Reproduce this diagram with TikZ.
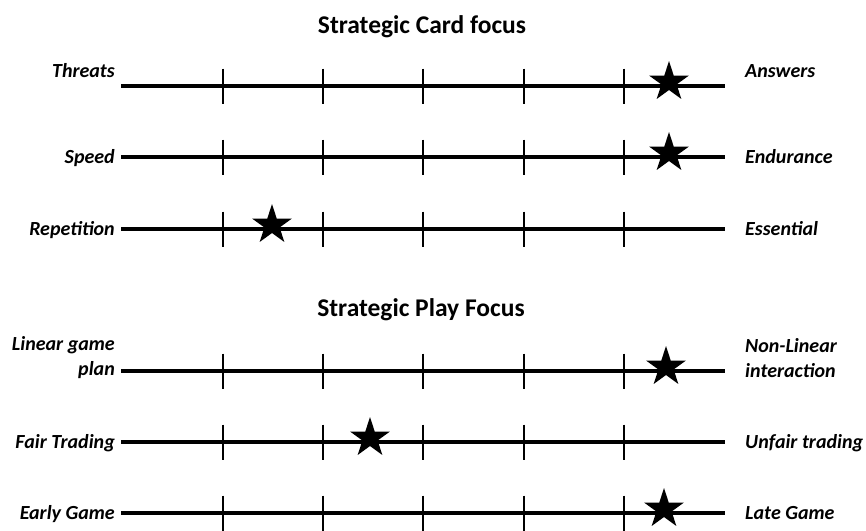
\documentclass[tikz,border=0pt]{standalone}
\usepackage{fontspec}
\setmainfont{Carlito}
\usetikzlibrary{shapes.geometric}
\tikzset{
  axisline/.style={line width=4pt},
  tickline/.style={line width=2pt},
  starmark/.style={star, star points=5, star point ratio=2.618, minimum size=42pt, inner sep=0pt, fill=black, draw=none},
  lbl/.style={font=\fontsize{20}{25}\selectfont\bfseries\itshape, inner sep=0pt},
  ttl/.style={font=\fontsize{25.5}{30}\selectfont\bfseries, inner sep=0pt, anchor=base}
}
\begin{document}
\begin{tikzpicture}[x=1pt,y=-1pt]
\useasboundingbox (0,0) rectangle (866,530);
% titles
\node[ttl] (t1) at (422,33) {Strategic Card focus};
\node[ttl] (t2) at (421,316) {Strategic Play Focus};
% rows
\foreach \r/\y in {1/86,2/157,3/229,4/371,5/442,6/513}{
  \coordinate (a\r) at (121,\y);
  \coordinate (b\r) at (725,\y);
  \draw[axisline] (a\r) -- (b\r);
  \foreach \k/\x in {1/223,2/323,3/423,4/524,5/624}{
    \coordinate (u\r\k) at (\x,\y-17.5);
    \coordinate (d\r\k) at (\x,\y+17.5);
    \draw[tickline] (u\r\k) -- (d\r\k);
  }
}
% stars
\node[starmark] (s1) at (669,82) {};
\node[starmark] (s2) at (669,153) {};
\node[starmark] (s3) at (272,225) {};
\node[starmark] (s4) at (666,367) {};
\node[starmark] (s5) at (370,438) {};
\node[starmark] (s6) at (664,509) {};
% left labels
\node[lbl, anchor=base east] (l1) at (115,77) {Threats};
\node[lbl, anchor=base east] (l2) at (115,163) {Speed};
\node[lbl, anchor=base east] (l3) at (115,235) {Repetition};
\node[lbl, anchor=east, align=right] (l4) at (115,358) {Linear game\\plan};
\node[lbl, anchor=base east] (l5) at (115,448) {Fair Trading};
\node[lbl, anchor=base east] (l6) at (115,519) {Early Game};
% right labels
\node[lbl, anchor=base west] (r1) at (745,77) {Answers};
\node[lbl, anchor=base west] (r2) at (745,163) {Endurance};
\node[lbl, anchor=base west] (r3) at (745,235) {Essential};
\node[lbl, anchor=west, align=left] (r4) at (745,358) {Non-Linear\\interaction};
\node[lbl, anchor=base west] (r5) at (745,448) {Unfair trading};
\node[lbl, anchor=base west] (r6) at (745,519) {Late Game};
\end{tikzpicture}
\end{document}
